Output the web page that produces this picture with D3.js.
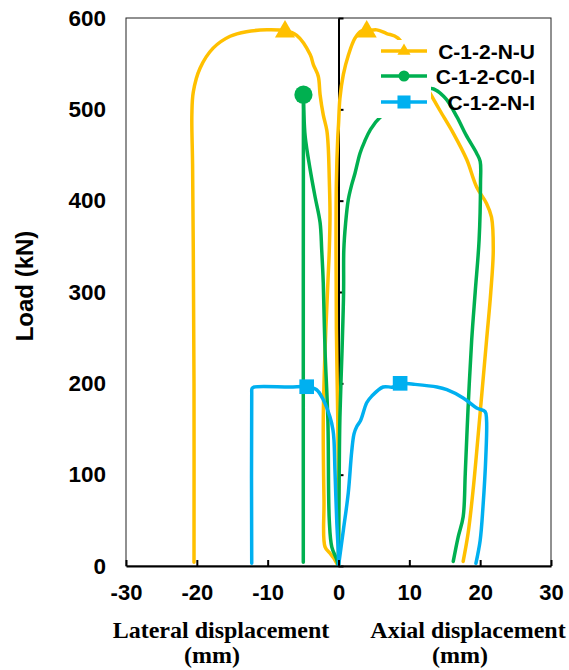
<!DOCTYPE html>
<html><head><meta charset="utf-8">
<script src="https://cdn.jsdelivr.net/npm/d3@7"></script>
<style>
body{margin:0;background:#fff;}
svg{display:block;}
</style></head><body>
<svg id="chart" width="569" height="670"></svg>
<script>
// ---------- data ----------
const seriesNames = ["C-1-2-N-U", "C-1-2-C0-I", "C-1-2-N-I"];
const seriesColors = ["#FFC000", "#00B050", "#00B0F0"];
const xTickValues = [-30, -20, -10, 0, 10, 20, 30];
const xTickLabels = ["-30", "-20", "-10", "0", "10", "20", "30"];
const yTickValues = [0, 100, 200, 300, 400, 500, 600];
const yTickLabels = ["0", "100", "200", "300", "400", "500", "600"];
const xTitleLeft = ["Lateral displacement", "(mm)"];
const xTitleRight = ["Axial displacement", "(mm)"];
const yTitle = "Load (kN)";

// [displacement (mm), load (kN)]
const latNU = [[0,0],[-0.25,3],[-0.7,9],[-1.2,14],[-1.9,21],[-2.05,72],[-2.15,160],[-1.9,236],[-1.5,310],[-1.3,346],[-1.2,386],[-1.3,423],[-1.45,459],[-1.65,477],[-2.15,494],[-2.6,516],[-2.85,536],[-3.55,549],[-4.0,560],[-5.9,581],[-7.55,586],[-10.1,587],[-13.0,585],[-15.3,580],[-17.7,567],[-19.55,545],[-20.5,519],[-20.7,494],[-20.6,440],[-20.5,346],[-20.4,200],[-20.4,4]];
const axNU = [[0,0],[0,80],[-0.1,160],[-0.3,260],[-0.35,346],[-0.3,420],[-0.1,470],[0,483],[0.2,512],[0.68,538],[1.38,559],[2.33,578],[3.27,586],[3.98,586],[5.4,587],[6.8,583],[8.4,578],[12.9,518],[14.3,499],[16.2,474],[18.1,445],[19.5,415],[20.9,397],[21.6,382],[21.85,346],[21.5,300],[20.9,247],[20.0,168],[19.0,83],[18.3,36],[17.6,5]];
const latC0 = [[0,0],[-0.25,7],[-0.95,21],[-1.3,50],[-1.5,160],[-1.9,236],[-2.15,310],[-2.37,346],[-2.6,376],[-3.3,404],[-4.0,434],[-4.7,470],[-4.9,499],[-4.95,516],[-4.97,300],[-4.97,4]];
const axC0 = [[0,0],[0.1,100],[0.2,163],[0.5,236],[0.72,300],[0.75,346],[1.0,375],[1.38,401],[1.85,417],[2.33,430],[3.04,452],[3.7,465],[4.45,477],[5.86,491],[12.9,523],[15.0,513],[16.7,492],[18.0,472],[19.5,452],[20.0,443],[20.05,420],[19.85,357],[19.3,300],[18.8,247],[18.3,174],[17.9,102],[17.6,54],[16.9,32],[16.2,5]];
const latNI = [[0,0],[-0.03,14],[-0.25,50],[-0.5,105],[-0.64,138],[-0.78,149],[-1.2,163],[-2.15,182],[-3.1,193],[-4.49,196.3],[-6.85,196],[-11.9,196],[-12.2,194.5],[-12.25,188],[-12.25,3]];
const axNI = [[0,0],[0.7,40],[1.38,80],[1.86,125],[2.2,145],[2.6,153],[3.1,159],[4.0,179],[4.7,186],[6.3,196],[7.7,196],[8.7,200],[10.6,199],[13.9,196],[15.3,193],[17.6,184],[19.5,173],[20.7,169],[20.9,160],[20.8,120],[20.4,65],[20.0,28],[19.4,3]];

// marker points
const markersNU = [[-7.55,585],[3.98,585]];
const markersC0 = [[-4.95,516]];
const markersNI = [[-4.49,196.3],[8.7,200]];

// ---------- drawing ----------
const svg = d3.select("#chart");
const L = 126, R = 551, T = 18, B = 566;
const x = d3.scaleLinear().domain([-30, 30]).range([L, R]);
const y = d3.scaleLinear().domain([0, 600]).range([B, T]);
const sansFont = "'Liberation Sans', Arial, sans-serif";
const serifFont = "'Liberation Serif', 'Times New Roman', serif";

svg.append("rect").attr("width", 569).attr("height", 670).attr("fill", "#fff");

svg.append("defs").append("clipPath").attr("id", "plotclip")
  .append("rect").attr("x", L).attr("y", T - 10).attr("width", R - L).attr("height", B - T + 10);

// frame
svg.append("rect").attr("x", L).attr("y", T).attr("width", R - L).attr("height", B - T)
  .attr("fill", "none").attr("stroke", "#222").attr("stroke-width", 1);

// left tick labels
const gy = svg.append("g").attr("transform", `translate(${L},0)`)
  .call(d3.axisLeft(y).tickValues(yTickValues).tickFormat((d, i) => yTickLabels[i]).tickSize(0).tickPadding(20));
gy.select(".domain").remove();
gy.selectAll("text").attr("font-family", sansFont).attr("font-size", 22.5).attr("font-weight", "bold").attr("fill", "#000");

// inner vertical axis at x=0
const gi = svg.append("g").attr("transform", `translate(${x(0)},0)`)
  .call(d3.axisRight(y).tickValues(yTickValues).tickFormat("").tickSize(5).tickSizeOuter(0));
gi.select(".domain").attr("stroke", "#000").attr("stroke-width", 2);
gi.selectAll(".tick line").attr("stroke", "#000").attr("stroke-width", 2);

// series lines
const line = d3.line().x(d => x(d[0])).y(d => y(d[1])).curve(d3.curveCatmullRom.alpha(0.5));
const plot = svg.append("g").attr("clip-path", "url(#plotclip)");

// split a curve where it reverses straight down from its peak (unloading branch)
function splitAtPeak(arr) {
  const k = d3.maxIndex(arr, d => d[1]);
  if (k > 0 && k < arr.length - 1 && Math.abs(arr[k + 1][0] - arr[k][0]) < 0.1) {
    return [arr.slice(0, k + 1), arr.slice(k)];
  }
  return [arr];
}

const series = [
  {curves: [latNU, axNU], markers: markersNU, sym: d3.symbolTriangle, size: 175},
  {curves: [latC0, axC0], markers: markersC0, sym: d3.symbolCircle, size: 260},
  {curves: [latNI, axNI], markers: markersNI, sym: d3.symbolSquare, size: 215}
];
series.forEach((s, i) => {
  s.curves.forEach(c => {
    splitAtPeak(c).forEach(seg => {
      plot.append("path").attr("d", line(seg)).attr("fill", "none")
        .attr("stroke", seriesColors[i]).attr("stroke-width", 3.5)
        .attr("stroke-linejoin", "round").attr("stroke-linecap", "round");
    });
  });
  s.markers.forEach(m => {
    plot.append("path").attr("d", d3.symbol().type(s.sym).size(s.size)())
      .attr("transform", `translate(${x(m[0])},${y(m[1])})`).attr("fill", seriesColors[i]);
  });
});

// bottom axis
const gx = svg.append("g").attr("transform", `translate(0,${B})`)
  .call(d3.axisBottom(x).tickValues(xTickValues).tickFormat((d, i) => xTickLabels[i]).tickSize(-6).tickSizeOuter(0).tickPadding(18));
gx.select(".domain").attr("stroke", "#000").attr("stroke-width", 2);
gx.selectAll(".tick line").attr("stroke", "#000").attr("stroke-width", 2);
gx.selectAll("text").attr("font-family", sansFont).attr("font-size", 22).attr("font-weight", "bold").attr("fill", "#000");

// legend
svg.append("rect").attr("x", 377).attr("y", 40).attr("width", 54).attr("height", 78).attr("fill", "#fff");
const legRows = [51, 76, 102];
const legSyms = [[d3.symbolTriangle, 75], [d3.symbolCircle, 95], [d3.symbolSquare, 170]];
seriesNames.forEach((n, i) => {
  const gy0 = legRows[i];
  svg.append("line").attr("x1", 381).attr("x2", 427).attr("y1", gy0).attr("y2", gy0)
    .attr("stroke", seriesColors[i]).attr("stroke-width", 3.5);
  svg.append("path").attr("d", d3.symbol().type(legSyms[i][0]).size(legSyms[i][1])())
    .attr("transform", `translate(404,${gy0})`).attr("fill", seriesColors[i]);
  svg.append("text").attr("x", 535).attr("y", gy0 + 7.5).attr("text-anchor", "end")
    .attr("font-family", sansFont).attr("font-size", 21).attr("font-weight", "bold").text(n);
});

// axis titles
svg.append("text").attr("transform", "translate(33,286) rotate(-90)").attr("text-anchor", "middle")
  .attr("font-family", sansFont).attr("font-size", 24).attr("font-weight", "bold").text(yTitle);

const titleStyle = t => t.attr("font-family", serifFont).attr("font-size", 24).attr("font-weight", "bold").attr("text-anchor", "middle");
svg.append("text").attr("x", 221).attr("y", 638).call(titleStyle).text(xTitleLeft[0]);
svg.append("text").attr("x", 212).attr("y", 663).call(titleStyle).text(xTitleLeft[1]);
svg.append("text").attr("x", 468).attr("y", 638).call(titleStyle).text(xTitleRight[0]);
svg.append("text").attr("x", 460).attr("y", 663).call(titleStyle).text(xTitleRight[1]);
</script>
</body></html>
